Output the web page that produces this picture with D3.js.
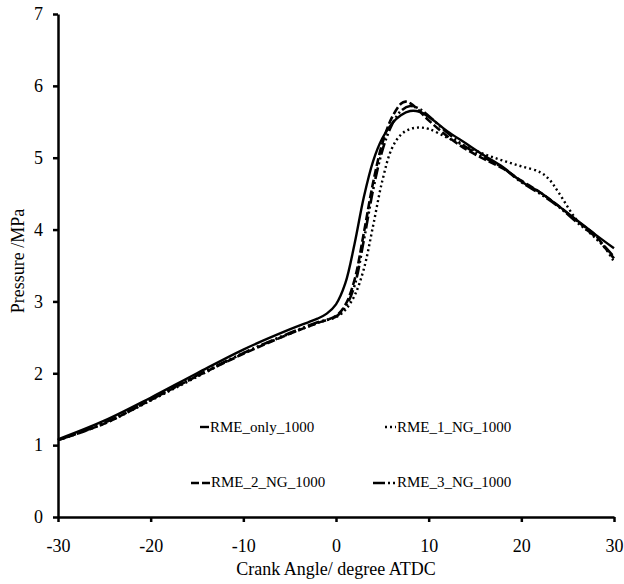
<!DOCTYPE html>
<html>
<head>
<meta charset="utf-8">
<script src="https://cdn.jsdelivr.net/npm/d3@7"></script>
<style>
  html, body { margin: 0; padding: 0; background: #fff; }
  svg { display: block; font-family: "Liberation Serif", "Times New Roman", serif; }
</style>
</head>
<body>
<svg id="chart" width="624" height="584"></svg>
<script>
// ---- Data ----
const xTicks = [-30, -20, -10, 0, 10, 20, 30];
const yTicks = [0, 1, 2, 3, 4, 5, 6, 7];

const angOnly = [-30,-25,-20,-15,-10,-5,-3,-2,-1,0,1,2,3,4,5,6,7,8,9,10,12,14,16,18,20,22,24,26,28,30];
const rmeOnly = [1.08,1.34,1.66,2.0,2.33,2.61,2.71,2.76,2.83,2.96,3.25,3.8,4.45,4.95,5.27,5.47,5.59,5.65,5.64,5.57,5.37,5.2,5.03,4.87,4.67,4.52,4.33,4.13,3.93,3.74];

const ang1 = [-30,-25,-20,-15,-10,-5,-3,-2,-1,0,1,2,3,4,5,6,7,8,9,10,12,14,16,18,20,22,23,24,26,28,29,30];
const rme1 = [1.07,1.3,1.62,1.95,2.28,2.55,2.65,2.7,2.74,2.78,2.88,3.08,3.45,4.05,4.68,5.12,5.32,5.4,5.42,5.4,5.28,5.16,5.05,4.96,4.88,4.8,4.7,4.52,4.13,3.88,3.75,3.55];

const ang2 = [-30,-25,-20,-15,-10,-5,-2,0,1,2,3,4,5,6,7,7.5,8,9,10,12,14,16,18,20,22,24,26,28,29,30];
const rme2 = [1.07,1.3,1.63,1.96,2.27,2.55,2.7,2.8,2.95,3.3,3.95,4.65,5.2,5.55,5.75,5.78,5.76,5.65,5.52,5.3,5.12,4.98,4.85,4.68,4.52,4.33,4.12,3.92,3.75,3.6];

const ang3 = [-30,-25,-20,-15,-10,-5,-2,0,1,2,3,4,5,6,7,8,9,10,12,14,16,18,20,22,24,26,28,30];
const rme3 = [1.07,1.31,1.63,1.97,2.28,2.56,2.71,2.79,2.92,3.22,3.85,4.55,5.1,5.45,5.65,5.72,5.68,5.58,5.35,5.15,5.0,4.86,4.66,4.5,4.32,4.1,3.9,3.62];

const seriesNames = ["RME_only_1000", "RME_1_NG_1000", "RME_2_NG_1000", "RME_3_NG_1000"];

// ---- Styles ----
const styles = [
  { dash: null, width: 2.4 },
  { dash: "2,3", width: 2.4 },
  { dash: "8,3", width: 2.6 },
  { dash: "12,3,2,3,2,3", width: 2.6 }
];

const FONT = '"Liberation Serif", "Times New Roman", serif';
const svg = d3.select("#chart");
const x = d3.scaleLinear().domain([-30, 30]).range([58, 614]);
const y = d3.scaleLinear().domain([0, 7]).range([517, 14]);

// Axes
const xAxis = svg.append("g")
  .attr("transform", `translate(0,${y(0)})`)
  .call(d3.axisBottom(x).tickValues(xTicks).tickFormat(d => String(d))
    .tickSize(5).tickPadding(17).tickSizeOuter(0));
const yAxis = svg.append("g")
  .attr("transform", `translate(${x(-30)},0)`)
  .call(d3.axisLeft(y).tickValues(yTicks).tickFormat(d => String(d))
    .tickSize(5).tickPadding(10).tickSizeOuter(0));

[xAxis, yAxis].forEach(g => {
  g.attr("font-family", FONT).attr("font-size", 18);
  g.select(".domain").attr("stroke", "#000").attr("stroke-width", 2.5);
  g.selectAll(".tick line").attr("stroke", "#000").attr("stroke-width", 2.5);
  g.selectAll(".tick text").attr("fill", "#000");
});

// Axis titles
svg.append("text")
  .attr("x", 336).attr("y", 575)
  .attr("text-anchor", "middle")
  .attr("font-family", FONT)
  .style("font-size", "18px")
  .text("Crank Angle/ degree ATDC");

svg.append("text")
  .attr("transform", "translate(24,261) rotate(-90)")
  .attr("text-anchor", "middle")
  .attr("font-family", FONT)
  .style("font-size", "18px")
  .text("Pressure /MPa");

// Lines
const datasets = [
  angOnly.map((a, i) => [a, rmeOnly[i]]),
  ang1.map((a, i) => [a, rme1[i]]),
  ang2.map((a, i) => [a, rme2[i]]),
  ang3.map((a, i) => [a, rme3[i]])
];

const line = d3.line()
  .x(d => x(d[0]))
  .y(d => y(d[1]))
  .curve(d3.curveCatmullRom.alpha(0.5));

datasets.forEach((ds, i) => {
  svg.append("path")
    .datum(ds)
    .attr("fill", "none")
    .attr("stroke", "#000")
    .attr("stroke-width", styles[i].width)
    .attr("stroke-dasharray", styles[i].dash)
    .attr("d", line);
});

// Legend
const legendItems = [
  { x1: 200, x2: 209, y: 427, tx: 210, ty: 432 },
  { x1: 385, x2: 396, y: 427, tx: 397, ty: 432 },
  { x1: 191, x2: 210, y: 483, tx: 211, ty: 487 },
  { x1: 373, x2: 396, y: 483, tx: 397, ty: 487 }
];
legendItems.forEach((it, i) => {
  svg.append("line")
    .attr("x1", it.x1).attr("x2", it.x2)
    .attr("y1", it.y).attr("y2", it.y)
    .attr("stroke", "#000")
    .attr("stroke-width", styles[i].width)
    .attr("stroke-dasharray", styles[i].dash);
  svg.append("text")
    .attr("x", it.tx).attr("y", it.ty)
    .attr("font-family", FONT)
    .style("font-size", "15px")
    .text(seriesNames[i]);
});
</script>
</body>
</html>
